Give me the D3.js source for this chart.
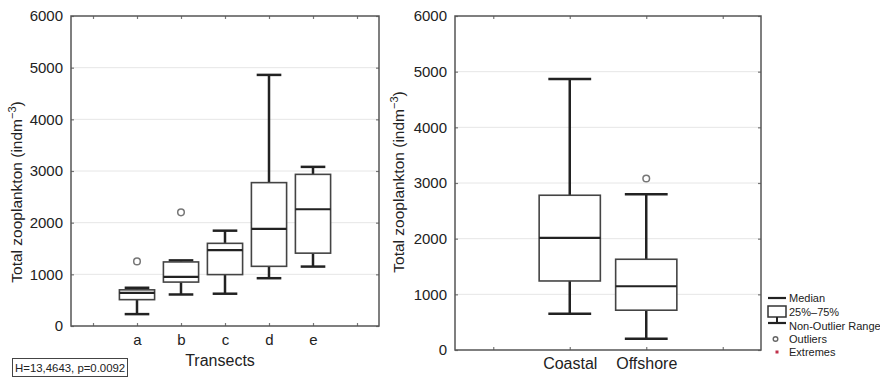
<!DOCTYPE html>
<html>
<head>
<meta charset="utf-8">
<script src="https://cdn.jsdelivr.net/npm/d3@7"></script>
<style>
  body { margin: 0; background: #fff; }
  text { font-family: "Liberation Sans", Arial, sans-serif; fill: #222; }
</style>
</head>
<body>
<div id="chart"></div>
<script>
// Left panel: zooplankton by transect
var transects = ["a", "b", "c", "d", "e"];
var transMin = [230, 610, 625, 925, 1150];
var transQ1 = [510, 850, 995, 1155, 1410];
var transMed = [640, 950, 1470, 1880, 2260];
var transQ3 = [700, 1240, 1600, 2775, 2935];
var transMax = [740, 1270, 1845, 4860, 3080];
var transOutliers = [[1250], [2200], [], [], []];

// Right panel: coastal vs offshore
var sites = ["Coastal", "Offshore"];
var siteMin = [650, 200];
var siteQ1 = [1240, 715];
var siteMed = [2015, 1145];
var siteQ3 = [2780, 1630];
var siteMax = [4870, 2800];
var siteOutliers = [[], [3080]];

var yTicks = [0, 1000, 2000, 3000, 4000, 5000, 6000];
var legendLabels = ["Median", "25%\u201375%", "Non-Outlier Range", "Outliers", "Extremes"];

var svg = d3.select("#chart").append("svg")
  .attr("width", 880)
  .attr("height", 378);

function drawPanel(cfg) {
  var g = svg.append("g");
  var y = d3.scaleLinear().domain([0, 6000]).range([cfg.bottom, cfg.top]);
  var x = d3.scalePoint().domain(cfg.domain).range([cfg.left, cfg.right]).padding(0.5);
  var step = x.step();

  // gridlines
  g.selectAll(".grid")
    .data(yTicks.slice(1, -1))
    .enter().append("line")
    .attr("x1", cfg.left).attr("x2", cfg.right)
    .attr("y1", d => y(d)).attr("y2", d => y(d))
    .style("stroke", "#e6e6e6").style("stroke-width", 1);

  // axes with small inward ticks
  var xa = g.append("g")
    .attr("transform", "translate(0," + cfg.bottom + ")")
    .call(d3.axisBottom(x).tickSizeInner(-3).tickSizeOuter(0).tickPadding(8)
      .tickFormat(d => d.charAt(0) == "_" ? "" : d));
  xa.selectAll("text").style("font-size", cfg.xFont + "px").style("fill", "#222");

  g.append("g")
    .attr("transform", "translate(0," + cfg.top + ")")
    .call(d3.axisTop(x).tickSizeInner(-3).tickSizeOuter(0).tickFormat(""));

  var ya = g.append("g")
    .attr("transform", "translate(" + cfg.left + ",0)")
    .call(d3.axisLeft(y).tickValues(yTicks).tickFormat(d3.format("d"))
      .tickSizeInner(-3).tickSizeOuter(0).tickPadding(8));
  ya.selectAll("text").style("font-size", "15px").style("fill", "#222");

  g.append("g")
    .attr("transform", "translate(" + cfg.right + ",0)")
    .call(d3.axisRight(y).tickValues(yTicks).tickSizeInner(-3).tickSizeOuter(0).tickFormat(""));

  g.selectAll(".domain").remove();
  g.selectAll(".tick line").style("stroke", "#777").style("stroke-width", 1.2);

  // frame
  g.append("rect")
    .attr("x", cfg.left).attr("y", cfg.top)
    .attr("width", cfg.right - cfg.left).attr("height", cfg.bottom - cfg.top)
    .style("fill", "none").style("stroke", "#555").style("stroke-width", 1.5);

  var boxW = step * 0.8, capW = step * 0.56;
  cfg.cats.forEach(function(c, i) {
    var cx = x(c);
    // whiskers
    g.append("line")
      .attr("x1", cx).attr("x2", cx)
      .attr("y1", y(cfg.max[i])).attr("y2", y(cfg.q3[i]))
      .style("stroke", "#222").style("stroke-width", 2.5);
    g.append("line")
      .attr("x1", cx).attr("x2", cx)
      .attr("y1", y(cfg.q1[i])).attr("y2", y(cfg.min[i]))
      .style("stroke", "#222").style("stroke-width", 2.5);
    [cfg.max[i], cfg.min[i]].forEach(function(v) {
      g.append("line")
        .attr("x1", cx - capW / 2).attr("x2", cx + capW / 2)
        .attr("y1", y(v)).attr("y2", y(v))
        .style("stroke", "#222").style("stroke-width", 2.5);
    });
    // box
    g.append("rect")
      .attr("x", cx - boxW / 2).attr("width", boxW)
      .attr("y", y(cfg.q3[i])).attr("height", y(cfg.q1[i]) - y(cfg.q3[i]))
      .style("fill", "#fff").style("stroke", "#444").style("stroke-width", 1.6);
    // median
    g.append("line")
      .attr("x1", cx - boxW / 2).attr("x2", cx + boxW / 2)
      .attr("y1", y(cfg.med[i])).attr("y2", y(cfg.med[i]))
      .style("stroke", "#222").style("stroke-width", 2.2);
    // outliers
    cfg.out[i].forEach(function(v) {
      g.append("circle")
        .attr("cx", cx).attr("cy", y(v)).attr("r", 3.3)
        .style("fill", "#fff").style("stroke", "#777").style("stroke-width", 1.5);
    });
  });

  // y title
  var t = g.append("text")
    .attr("transform", "translate(" + cfg.titleX + "," + cfg.titleY + ") rotate(-90)")
    .attr("text-anchor", "middle")
    .style("font-size", "15.5px");
  t.append("tspan").text("Total zooplankton (indm");
  t.append("tspan").attr("dy", -6).style("font-size", "11px").text("\u22123");
  t.append("tspan").attr("dy", 6).text(")");

  return {x: x, y: y};
}

drawPanel({
  left: 71, right: 379, top: 16, bottom: 326,
  domain: ["_l"].concat(transects, ["_r"]),
  cats: transects, min: transMin, q1: transQ1, med: transMed, q3: transQ3, max: transMax, out: transOutliers,
  xFont: 15, titleX: 22, titleY: 192
});

drawPanel({
  left: 455, right: 761, top: 16, bottom: 350,
  domain: ["_l"].concat(sites, ["_r"]),
  cats: sites, min: siteMin, q1: siteQ1, med: siteMed, q3: siteQ3, max: siteMax, out: siteOutliers,
  xFont: 16, titleX: 404, titleY: 182
});

// x title, left panel
svg.append("text")
  .attr("x", 220).attr("y", 366)
  .attr("text-anchor", "middle")
  .style("font-size", "16px")
  .text("Transects");

// test statistic box
svg.append("rect")
  .attr("x", 12.5).attr("y", 358.5).attr("width", 115).attr("height", 18)
  .style("fill", "#fff").style("stroke", "#444").style("stroke-width", 1);
svg.append("text")
  .attr("x", 15).attr("y", 372)
  .style("font-size", "11.4px")
  .text("H=13,4643, p=0.0092");

// legend
var lg = svg.append("g");
var lx = 768, lw = 18, tx = 789;
var ly = [298, 312, 326, 339, 352];
lg.append("line").attr("x1", lx).attr("x2", lx + lw).attr("y1", ly[0]).attr("y2", ly[0])
  .style("stroke", "#222").style("stroke-width", 2.2);
lg.append("rect").attr("x", lx).attr("y", 306).attr("width", lw).attr("height", 11)
  .style("fill", "#fff").style("stroke", "#333").style("stroke-width", 1.5);
lg.append("line").attr("x1", lx + lw / 2).attr("x2", lx + lw / 2).attr("y1", 317).attr("y2", 323)
  .style("stroke", "#222").style("stroke-width", 2);
lg.append("line").attr("x1", lx).attr("x2", lx + lw).attr("y1", 323).attr("y2", 323)
  .style("stroke", "#222").style("stroke-width", 2.2);
lg.append("circle").attr("cx", 775.5).attr("cy", ly[3]).attr("r", 2.3)
  .style("fill", "#fff").style("stroke", "#666").style("stroke-width", 1.4);
lg.append("rect").attr("x", 775.5).attr("y", ly[4] - 1.5).attr("width", 3).attr("height", 3)
  .style("fill", "#c0304a");
lg.selectAll(".lt")
  .data(legendLabels)
  .enter().append("text")
  .attr("x", tx).attr("y", (d, i) => ly[i])
  .attr("dy", "0.35em")
  .style("font-size", "11px")
  .text(d => d);
</script>
</body>
</html>
